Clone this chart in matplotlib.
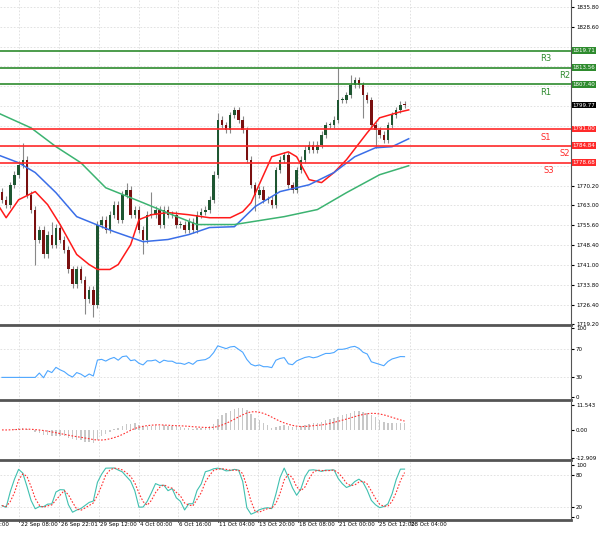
import numpy as np, pandas as pd
import matplotlib
matplotlib.use("Agg")
import matplotlib.pyplot as plt
from matplotlib.patches import Rectangle

closes = [1765.0,1763.2,1770.5,1774.2,1777.9,1779.7,1766.9,1761.4,1750.4,1754.0,1744.9,1752.2,1748.5,1754.8,1750.4,1746.7,1739.4,1733.9,1739.4,1735.7,1728.4,1732.0,1726.5,1755.9,1757.7,1754.0,1759.5,1763.2,1757.7,1766.9,1768.7,1759.5,1761.4,1754.0,1750.4,1759.5,1759.5,1761.4,1755.9,1761.4,1759.5,1759.5,1755.9,1755.9,1754.0,1757.0,1754.0,1759.5,1760.6,1761.4,1765.0,1774.2,1794.4,1792.5,1790.7,1796.2,1798.0,1794.4,1790.7,1779.7,1770.5,1766.9,1768.7,1765.0,1765.0,1763.2,1776.0,1779.7,1781.5,1770.5,1768.7,1776.0,1779.7,1783.4,1785.2,1783.4,1785.2,1788.9,1792.5,1792.5,1794.4,1801.7,1801.7,1803.5,1807.2,1809.0,1807.2,1803.5,1801.7,1792.5,1790.7,1788.9,1787.0,1792.5,1796.2,1798.0,1799.9,1799.77]
first_open = 1768.0
wick_spikes = {5: 1786.0, 6: 1780.5, 12: 1757.0, 23: 1756.5, 36: 1768.0, 81: 1813.5, 84: 1811.0, 63: 1760.0, 30: 1771.0, 52: 1797.0}
low_spikes = {8: 1741.0, 22: 1722.0, 20: 1723.0, 34: 1745.0, 61: 1761.0, 87: 1795.0, 90: 1784.0}

red_idx = [-1,1,4,8,11,14,16,18,21,23,26,28,31,33,36,40,45,50,55,58,60,65,69,71,74,77,80,83,88,91,96,98]
red_val = [1763.2,1758.4,1765.0,1768.0,1763.2,1755.9,1750.4,1744.9,1741.2,1739.4,1739.4,1741.2,1748.5,1757.7,1759.5,1760.3,1759.5,1758.4,1758.4,1760.6,1763.9,1780.8,1782.6,1780.8,1772.4,1771.3,1775.0,1779.7,1789.6,1795.1,1797.3,1798.0]
blue_idx = [-1,4,8,13,18,24,27,34,40,45,50,56,61,67,74,80,85,90,94,98]
blue_val = [1781.5,1778.6,1775.0,1767.6,1758.8,1755.1,1753.3,1749.6,1750.4,1752.2,1754.8,1755.1,1762.5,1768.0,1770.5,1775.0,1780.8,1784.1,1784.5,1787.4]
green_idx = [-1,7,13,19,25,34,41,47,56,68,76,83,91,98]
green_val = [1796.9,1791.4,1784.5,1778.6,1769.4,1763.9,1759.5,1755.9,1755.9,1758.8,1761.4,1767.6,1774.2,1777.5]

levels = {"R3": 1819.71, "R2": 1813.56, "R1": 1807.40, "S1": 1791.00, "S2": 1784.84, "S3": 1778.68}
price_ticks = [1719.2,1726.4,1733.8,1741.0,1748.4,1755.6,1763.0,1770.2,1828.6,1835.8]
date_labels = ["20:00","22 Sep 08:00","26 Sep 22:01","29 Sep 12:00","4 Oct 00:00","6 Oct 16:00","11 Oct 04:00","13 Oct 20:00","18 Oct 08:00","21 Oct 00:00","25 Oct 12:00","28 Oct 04:00"]
date_idx = [-2.3,4.2,13.8,23.4,33.0,42.4,52.0,61.7,71.3,80.9,90.5,98.3]

c = pd.Series(closes)
o = pd.Series([first_open] + closes[:-1])
hi = np.maximum(o, c) + 1.2
lo = np.minimum(o, c) - 1.2
for k, v in wick_spikes.items(): hi[k] = max(hi[k], v)
for k, v in low_spikes.items(): lo[k] = min(lo[k], v)
n = len(closes)
x = np.arange(n)

# indicators
d = c.diff().fillna(0)
up = d.clip(lower=0).ewm(alpha=1/14, adjust=True).mean()
dn = (-d.clip(upper=0)).ewm(alpha=1/14, adjust=True).mean()
rsi = 100 - 100/(1+up/dn.replace(0, 1e-9))
rsi.iloc[:8] = rsi.iloc[8]
macd = c.ewm(span=12).mean() - c.ewm(span=26).mean()
sig = macd.rolling(9, min_periods=1).mean()
hh = pd.Series(hi).rolling(5, min_periods=1).max(); ll = pd.Series(lo).rolling(5, min_periods=1).min()
k_ = ((c - ll).rolling(3, min_periods=1).sum() / (hh - ll).rolling(3, min_periods=1).sum() * 100)
dline = k_.rolling(3, min_periods=1).mean()

W, H = 600, 533
fig = plt.figure(figsize=(6, 5.33), dpi=100)
pxw = 4.15
xmin = -2/pxw
xmax = xmin + 571/pxw
FS = 4.0
def ax_at(top, bot):
    a = fig.add_axes([0, 1-bot/H, 571/W, (bot-top)/H])
    a.set_xlim(xmin, xmax)
    a.yaxis.tick_right()
    a.tick_params(axis='y', labelsize=FS, length=2, pad=1.5)
    a.tick_params(axis='x', bottom=False, labelbottom=False)
    for s in ['top', 'left']: a.spines[s].set_visible(False)
    a.spines['bottom'].set_linewidth(2); a.spines['bottom'].set_color('#555555')
    a.spines['right'].set_color('#555555')
    for di in date_idx: a.axvline(di, color='#dddddd', ls=(0, (2, 2)), lw=0.6, zorder=0)
    return a

ax = ax_at(0, 325)
ax.set_ylim(1719.2 - 0.2, 1835.8 + 7/2.727)
for t in price_ticks + [1777.4, 1784.8, 1792.0, 1799.4, 1806.6, 1814.0, 1821.2]:
    ax.axhline(t, color='#dddddd', ls=(0, (2, 2)), lw=0.6, zorder=0)
ax.set_yticks(price_ticks)
ax.set_yticklabels([f"{t:.2f}" for t in price_ticks])
for i in x:
    ax.vlines(i, lo[i], hi[i], color='#888888', lw=0.8, zorder=2)
    col = '#1e5631' if c[i] >= o[i] else '#7a1010'
    b0, b1 = sorted([o[i], c[i]])
    ax.add_patch(Rectangle((i-0.3, b0), 0.6, max(b1-b0, 0.3), color=col, zorder=3, lw=0))
ax.plot(red_idx, red_val, color='#ff1a1a', lw=1.1, zorder=4)
ax.plot(blue_idx, blue_val, color='#3a6ee8', lw=1.1, zorder=4)
ax.plot(green_idx, green_val, color='#3cb371', lw=1.1, zorder=4)
lab_x = {"R3": 131.0, "R2": 135.5, "R1": 131.0, "S1": 131.0, "S2": 135.5, "S3": 131.8}
for name, v in levels.items():
    colr = '#2e8b2e' if name.startswith('R') else '#ff2a2a'
    ax.axhline(v, color=colr, lw=1.2, zorder=5)
    ax.text(lab_x[name], v - 1.3, name, color=colr, fontsize=6, ha='center', va='top')
    ax.text(1.003, v, f"{v:.2f}", transform=ax.get_yaxis_transform(), fontsize=FS, color='white',
            va='center', ha='left', bbox=dict(boxstyle='square,pad=0.15', fc=colr, ec='none'))
ax.text(1.003, closes[-1], f"{closes[-1]:.2f}", transform=ax.get_yaxis_transform(), fontsize=FS, color='white',
        va='center', ha='left', bbox=dict(boxstyle='square,pad=0.15', fc='black', ec='none'))

a1 = ax_at(327, 400)
a1.set_ylim(-4, 102)
a1.set_yticks([0, 30, 70, 100])
for t in [30, 70]: a1.axhline(t, color='#dddddd', ls=(0, (2, 2)), lw=0.6)
a1.plot(x, rsi, color='#4da6ff', lw=0.8)

a2 = ax_at(402, 460)
a2.set_ylim(-14, 13)
a2.set_yticks([-12.909, 0, 11.543]); a2.set_yticklabels(["-12.909", "0.00", "11.543"])
a2.bar(x, macd, width=0.35, color='#c8c8c8')
a2.plot(x, sig, color='#ff3030', lw=0.8, ls=(0, (1.5, 1.5)))

a3 = ax_at(462, 520)
a3.set_ylim(-5, 105)
a3.set_yticks([0, 20, 80, 100])
for t in [20, 80]: a3.axhline(t, color='#dddddd', ls=(0, (2, 2)), lw=0.6)
a3.plot(x, k_, color='#40c0b0', lw=0.8)
a3.plot(x, dline, color='#ff3030', lw=0.8, ls=(0, (1.5, 1.5)))
for di, lab in zip(date_idx, date_labels):
    a3.text(di + 0.3, -9, lab, fontsize=FS, ha='left', va='top', clip_on=False)
    a3.plot([di, di], [-5, -8], color='black', lw=0.5, clip_on=False)

fig.savefig("out.png", dpi=100)
